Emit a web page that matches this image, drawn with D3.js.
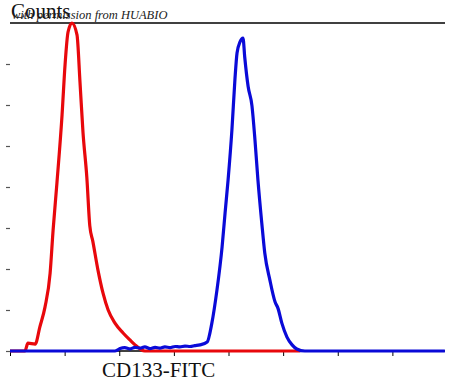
<!DOCTYPE html>
<html>
<head>
<meta charset="utf-8">
<script src="https://cdn.jsdelivr.net/npm/d3@7"></script>
<style>
  body { margin: 0; background: #fff; }
  svg { display: block; }
  .serif { font-family: "Liberation Serif", "DejaVu Serif", serif; }
</style>
</head>
<body>
<div id="chart"></div>
<script>
// channel values (0..1024) and counts for each histogram
var isoX = [0, 35, 42, 59, 70, 82, 94, 101, 110, 122, 129, 136, 145, 157, 164, 171, 180, 187, 194, 206, 218, 230, 246, 265, 281, 293, 305, 316, 680];
var isoY = [0, 0, 19, 17, 59, 107, 190, 295, 410, 576, 698, 778, 800, 771, 656, 534, 424, 305, 268, 198, 141, 100, 68, 44, 27, 15, 5, 0, 0];

var cdX = [0, 246, 253, 258, 269, 281, 293, 305, 316, 328, 340, 351, 363, 375, 387, 398, 410, 422, 433, 445, 462, 473, 485, 497, 504, 511, 520, 527, 532, 539, 546, 550, 558, 567, 574, 581, 590, 597, 609, 621, 628, 637, 649, 661, 672, 691, 1019];
var cdY = [0, 0, 3, 6, 8, 5, 9, 7, 10, 6, 9, 7, 10, 8, 11, 10, 12, 11, 13, 15, 22, 68, 149, 254, 337, 417, 539, 661, 727, 754, 763, 717, 645, 598, 515, 417, 312, 239, 173, 120, 104, 68, 34, 15, 5, 0, 0];

var xTicks = [0, 128, 256, 384, 512, 640, 768, 896];
var yTicks = [0, 100, 200, 300, 400, 500, 600, 700];

var width = 450, height = 385;
var svg = d3.select("#chart").append("svg")
    .attr("width", width)
    .attr("height", height);

var x = d3.scaleLinear().domain([0, 1024]).range([10, 447]);
var y = d3.scaleLinear().domain([0, 800]).range([351, 23]);

// top frame line
svg.append("line")
    .attr("x1", 10).attr("x2", 445)
    .attr("y1", y(800)).attr("y2", y(800))
    .attr("stroke", "#000").attr("stroke-width", 1.5);

// y ticks: short dashes, no axis line
var yAxis = svg.append("g")
    .attr("transform", "translate(10,0)")
    .call(d3.axisLeft(y).tickValues(yTicks).tickSize(4).tickFormat(""));
yAxis.select(".domain").remove();
yAxis.selectAll("line").attr("stroke", "#555").attr("stroke-width", 1.2);

// x axis
var xAxis = svg.append("g")
    .attr("transform", "translate(0," + y(0) + ")")
    .call(d3.axisBottom(x).tickValues(xTicks).tickSize(5).tickSizeOuter(0).tickFormat(""));
xAxis.select(".domain").attr("d", "M10,0H445").attr("stroke", "#000").attr("stroke-width", 1.5);
xAxis.selectAll("line").attr("stroke", "#000").attr("stroke-width", 1);

var line = d3.line()
    .x(function(d) { return x(d[0]); })
    .y(function(d) { return y(d[1]); })
    .curve(d3.curveMonotoneX);

svg.append("path")
    .datum(d3.zip(isoX, isoY))
    .attr("d", line)
    .attr("fill", "none")
    .attr("stroke", "#e8080c")
    .attr("stroke-width", 3.2)
    .attr("stroke-linejoin", "round");

svg.append("path")
    .datum(d3.zip(cdX, cdY))
    .attr("d", line)
    .attr("fill", "none")
    .attr("stroke", "#0a0ad8")
    .attr("stroke-width", 3.2)
    .attr("stroke-linejoin", "round");

// labels
svg.append("text")
    .attr("class", "serif")
    .attr("x", 11).attr("y", 18)
    .attr("font-size", 21)
    .attr("fill", "#111")
    .text("Counts");

svg.append("text")
    .attr("class", "serif")
    .attr("x", 12).attr("y", 19)
    .attr("font-size", 12.5)
    .attr("font-style", "italic")
    .attr("fill", "#222")
    .text("with permission from HUABIO");

svg.append("text")
    .attr("class", "serif")
    .attr("x", 102).attr("y", 377)
    .attr("font-size", 21)
    .attr("fill", "#111")
    .text("CD133-FITC");
</script>
</body>
</html>
